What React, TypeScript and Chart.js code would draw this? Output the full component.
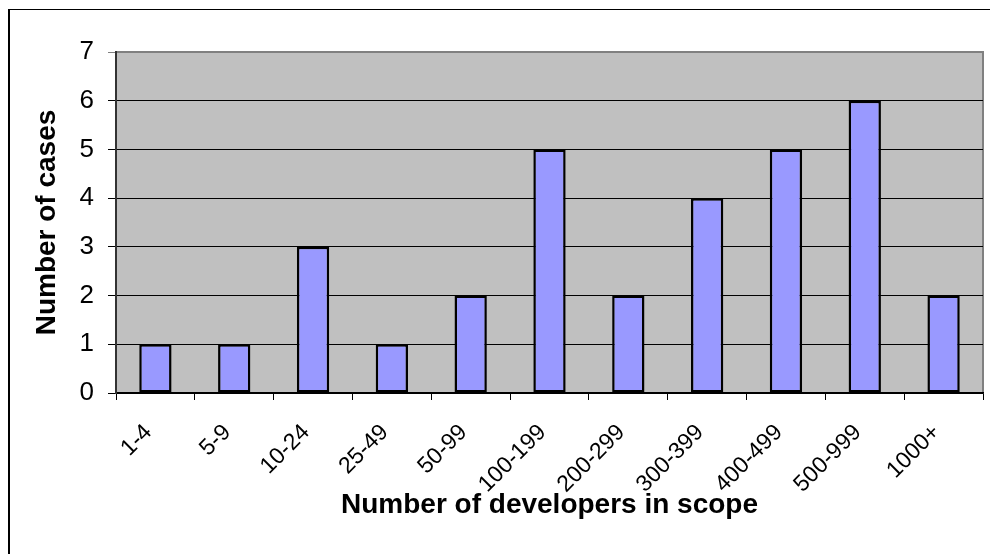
import React, { useEffect, useRef } from "react";
import { Chart, registerables } from "chart.js";

Chart.register(...registerables);

const categories = ["1-4", "5-9", "10-24", "25-49", "50-99", "100-199", "200-299", "300-399", "400-499", "500-999", "1000+"];
const caseCounts = [1, 1, 3, 1, 2, 5, 2, 4, 5, 6, 2];
const yTickValues = [0, 1, 2, 3, 4, 5, 6, 7];

const FONT = "Arial, 'Liberation Sans', Helvetica, sans-serif";

// Grey plot panel with a grey frame, painted behind the bars
const plotPanel = {
  id: "plotPanel",
  beforeDraw(chart: Chart) {
    const { ctx, chartArea } = chart;
    const { left, top, right, bottom } = chartArea;
    ctx.save();
    ctx.fillStyle = "#C0C0C0";
    ctx.fillRect(left, top, right - left, bottom - top);
    ctx.strokeStyle = "#808080";
    ctx.lineWidth = 2;
    ctx.strokeRect(left, top, right - left, bottom - top);
    ctx.restore();
  },
};

export default function App() {
  const canvasRef = useRef<HTMLCanvasElement | null>(null);

  useEffect(() => {
    if (!canvasRef.current) return;
    const chart = new Chart(canvasRef.current, {
      type: "bar",
      data: {
        labels: categories,
        datasets: [
          {
            data: caseCounts,
            backgroundColor: "#9999FF",
            borderColor: "#000000",
            borderWidth: 2.5,
            borderSkipped: false,
            categoryPercentage: 1,
            barPercentage: 0.41,
          },
        ],
      },
      options: {
        animation: false,
        responsive: false,
        maintainAspectRatio: false,
        layout: { padding: { top: 52, right: 7, left: 0, bottom: 0 } },
        plugins: {
          legend: { display: false },
          tooltip: { enabled: false },
        },
        scales: {
          x: {
            offset: true,
            grid: {
              offset: true,
              drawOnChartArea: false,
              drawTicks: true,
              tickLength: 7,
              color: "#000000",
            },
            border: { display: true, color: "#000000", width: 1.5 },
            ticks: {
              color: "#000000",
              font: { family: FONT, size: 23 },
              minRotation: 45,
              maxRotation: 45,
              padding: 19,
              labelOffset: -7,
              autoSkip: false,
            },
            title: {
              display: true,
              text: "Number of developers in scope",
              color: "#000000",
              font: { family: FONT, size: 28, weight: "bold" },
              padding: { top: 0, bottom: 32 },
            },
            afterFit(scale: any) {
              scale.height = 161;
            },
          },
          y: {
            min: 0,
            max: 7,
            afterBuildTicks(scale: any) {
              scale.ticks = yTickValues.map((v) => ({ value: v }));
            },
            grid: {
              color: (c: any) => (c.tick && c.tick.value === 7 ? "#808080" : "#000000"),
              lineWidth: 1,
              tickLength: 8,
              drawTicks: true,
            },
            border: { display: true, color: "#333333", width: 2 },
            ticks: {
              color: "#000000",
              font: { family: FONT, size: 26 },
              padding: 14,
            },
            title: {
              display: true,
              text: "Number of cases",
              color: "#000000",
              font: { family: FONT, size: 28, weight: "bold" },
              padding: { top: 30, bottom: 0 },
            },
            afterFit(scale: any) {
              scale.width = 116;
            },
          },
        },
      },
      plugins: [plotPanel],
    });
    return () => chart.destroy();
  }, []);

  return (
    <div
      style={{
        position: "fixed",
        left: 0,
        top: 0,
        width: 990,
        height: 554,
        overflow: "hidden",
        background: "#ffffff",
      }}
    >
      <div
        style={{
          position: "absolute",
          left: 8,
          top: 9,
          width: 1200,
          height: 800,
          borderLeft: "2px solid #000000",
          borderTop: "1px solid #000000",
          boxSizing: "border-box",
        }}
      />
      <canvas
        ref={canvasRef}
        width={990}
        height={554}
        style={{ position: "absolute", left: 0, top: 0, width: 990, height: 554 }}
      />
    </div>
  );
}
